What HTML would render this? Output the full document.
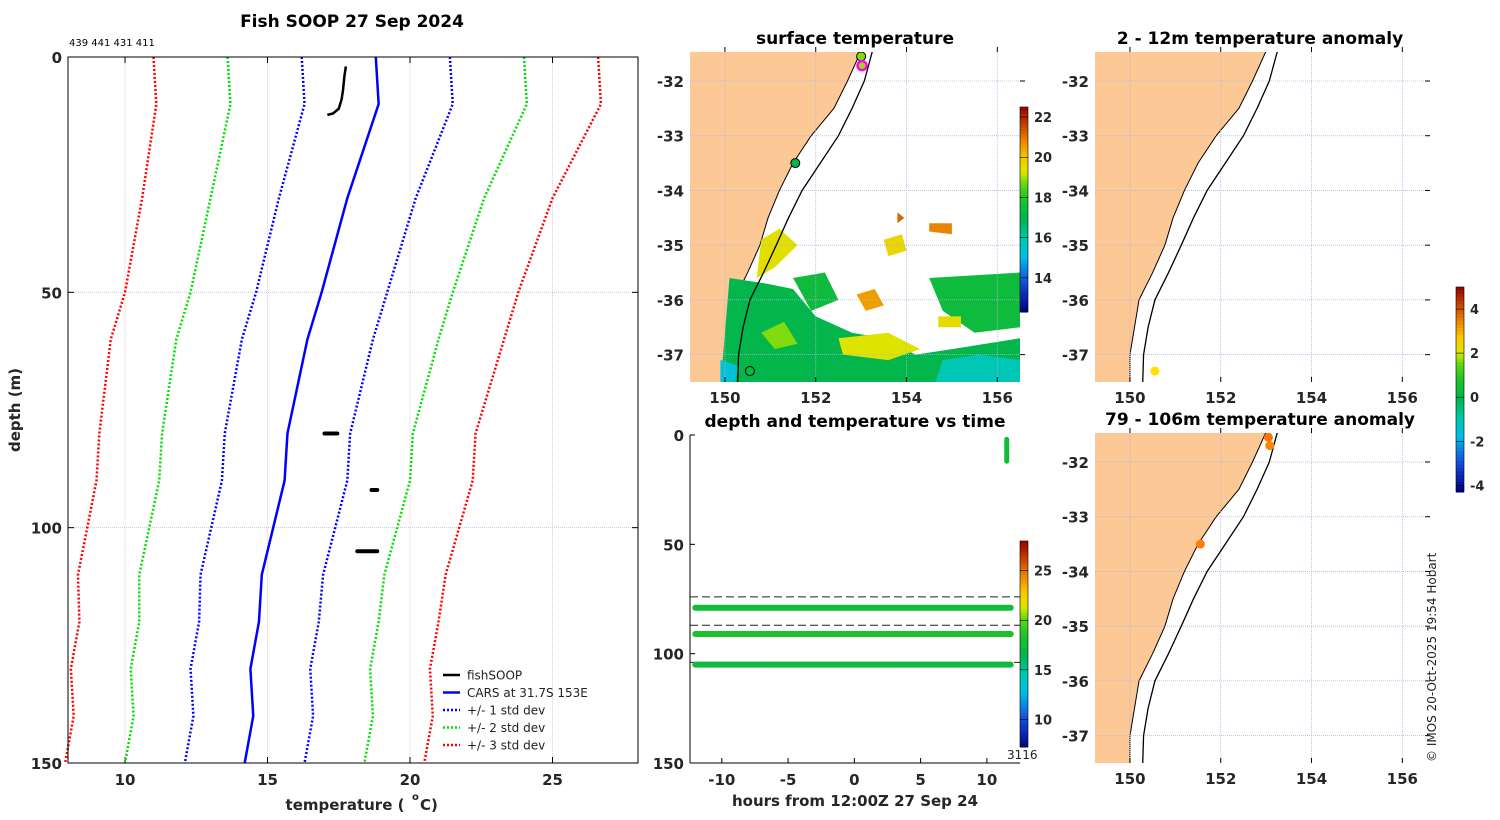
<!DOCTYPE html>
<html><head><meta charset="utf-8">
<style>
html,body{margin:0;padding:0;background:#fff;}
svg{display:block;font-family:"DejaVu Sans","Liberation Sans",sans-serif;}
.tk{font-size:15px;font-weight:bold;fill:#262626;}
.ttl{font-size:17px;font-weight:bold;fill:#000;}
.cb{font-size:13px;font-weight:bold;fill:#262626;}
</style></head>
<body>
<svg id="fig" width="1500" height="820" viewBox="0 0 1500 820">
  <g id="profile"></g>
  <g id="sst"></g>
  <g id="anom1"></g>
  <g id="anom2"></g>
  <g id="tplot"></g>
  <text x="1436" y="762" transform="rotate(-90 1436 762)" font-size="12" fill="#222">© IMOS 20-Oct-2025 19:54 Hobart</text>
</svg>
<script>
// ---- profile data ----
const depths = [0,10,30,50,60,80,90,110,120,130,140,150];
const carsMean = [18.8,18.9,17.8,16.9,16.4,15.7,15.6,14.8,14.7,14.4,14.5,14.2];
const carsStd = [2.6,2.6,2.4,2.3,2.3,2.2,2.2,2.15,2.1,2.1,2.1,2.1];
const fishDepth1 = [2,4,7,9,11,12,12.3];
const fishTemp1 = [17.75,17.7,17.65,17.6,17.5,17.3,17.1];
const blobs = [[80,17.0,17.45],[92,18.65,18.85],[105,18.15,18.85]];
const tempTicks = [10,15,20,25];
const depthTicks = [0,50,100,150];
// ---- map data ----
const lonTicks = [150,152,154,156];
const latTicks = [-32,-33,-34,-35,-36,-37];
const coastLon = [153.0,152.7,152.4,151.9,151.5,151.2,150.95,150.77,150.5,150.2,150.1,150.0,150.0];
const coastLat = [-31.45,-32.0,-32.5,-33.0,-33.5,-34.0,-34.5,-35.0,-35.5,-36.0,-36.5,-37.0,-37.55];
const shelfLon = [153.25,153.07,152.8,152.5,152.1,151.7,151.4,151.13,150.85,150.55,150.4,150.3,150.28];
const shelfLat = [-31.45,-32.0,-32.5,-33.0,-33.5,-34.0,-34.5,-35.0,-35.5,-36.0,-36.5,-37.0,-37.55];
const sstPointsLon = [153.0,153.02,151.55,150.55];
const sstPointsLat = [-31.55,-31.72,-33.5,-37.3];
const sstPointsVal = [18.8,18.9,17.0,17.3];
const anom1Lon = [150.55]; const anom1Lat = [-37.3]; const anom1Val = [1.8];
const anom2Lon = [153.05,153.08,151.55]; const anom2Lat = [-31.55,-31.7,-33.5]; const anom2Val = [2.8,2.6,2.7];
// ---- depth-time data ----
const hourTicks = [-10,-5,0,5,10];
const bandDepths = [79,91,105];
const bandTemps = [17.6,18.3,17.4];
const dashDepths = [74,87,104];
const surfHour = 11.5;
const surfDepths = [2,12];

const NS="http://www.w3.org/2000/svg";
function el(parent,tag,attrs,text){const e=document.createElementNS(NS,tag);for(const k in attrs)e.setAttribute(k,attrs[k]);if(text!==undefined)e.textContent=text;parent.appendChild(e);return e;}

function jet(t){t=Math.max(0,Math.min(1,t));
  const r=Math.max(0,Math.min(1,1.5-Math.abs(4*t-3)));
  const g=Math.max(0,Math.min(1,1.5-Math.abs(4*t-2)));
  const b=Math.max(0,Math.min(1,1.5-Math.abs(4*t-1)));
  return `rgb(${Math.round(r*255)},${Math.round(g*255)},${Math.round(b*255)})`;}
function sstCol(v,lo,hi){
  const t=(v-lo)/(hi-lo);
  const stops=[[0,[0,0,130]],[0.15,[20,80,220]],[0.27,[0,190,230]],[0.36,[0,200,170]],[0.45,[0,180,80]],[0.55,[30,195,40]],[0.62,[90,215,20]],[0.68,[220,230,0]],[0.76,[250,195,0]],[0.86,[225,110,0]],[1,[150,0,0]]];
  let tt=Math.max(0,Math.min(1,t));
  for(let i=1;i<stops.length;i++){if(tt<=stops[i][0]){const a=stops[i-1],b=stops[i];const f=(tt-a[0])/(b[0]-a[0]);
    return `rgb(${a[1].map((c,j)=>Math.round(c+(b[1][j]-c)*f)).join(',')})`;}}
  return 'rgb(150,0,0)';}

// ================= PROFILE =================
(function(){
  const g=document.getElementById('profile');
  const X0=68,X1=638,Y0=57,Y1=763,T0=8,T1=28,D0=0,D1=150;
  const xs=t=>X0+(t-T0)/(T1-T0)*(X1-X0);
  const ys=d=>Y0+(d-D0)/(D1-D0)*(Y1-Y0);
  el(g,'text',{x:352,y:27,'text-anchor':'middle',class:'ttl',},'Fish SOOP 27 Sep 2024');
  el(g,'text',{x:69,y:46,'font-size':'10',fill:'#000',},'439 441 431 411');
  tempTicks.forEach(t=>{const l=el(g,'line',{x1:xs(t),x2:xs(t),y1:Y0,y2:Y1,stroke:'#e8c8c8','stroke-width':1,'stroke-dasharray':'1,1'});
    
    el(g,'line',{x1:xs(t),x2:xs(t),y1:Y1,y2:Y1-6,stroke:'#000'});el(g,'line',{x1:xs(t),x2:xs(t),y1:Y0,y2:Y0+6,stroke:'#000'});
    const tx=el(g,'text',{x:xs(t),y:Y1+22,'text-anchor':'middle',class:'tk'},String(t));
    });
  depthTicks.forEach(d=>{const l=el(g,'line',{x1:X0,x2:X1,y1:ys(d),y2:ys(d),stroke:'#c0c8f0','stroke-width':1,'stroke-dasharray':'1,1'});
    
    el(g,'line',{x1:X0,x2:X0+6,y1:ys(d),y2:ys(d),stroke:'#000'});el(g,'line',{x1:X1,x2:X1-6,y1:ys(d),y2:ys(d),stroke:'#000'});
    const tx=el(g,'text',{x:X0-6,y:ys(d)+6,'text-anchor':'end',class:'tk'},String(d));
    });
  const cols={1:'#0000ff',2:'#00e000',3:'#ff0000'};
  [1,2,3].forEach(k=>{[-1,1].forEach(s=>{
    const pts=depths.map((d,i)=>xs(carsMean[i]+s*k*carsStd[i])+','+ys(d)).join(' ');
    const p=el(g,'polyline',{points:pts,fill:'none',stroke:cols[k],'stroke-width':2.5,'stroke-dasharray':'2,2'});
    });});
  const m=el(g,'polyline',{points:depths.map((d,i)=>xs(carsMean[i])+','+ys(d)).join(' '),fill:'none',stroke:'#0000ff','stroke-width':2.5});
  
  const f=el(g,'polyline',{points:fishDepth1.map((d,i)=>xs(fishTemp1[i])+','+ys(d)).join(' '),fill:'none',stroke:'#000','stroke-width':2.5});
  
  blobs.forEach(b=>{const e=el(g,'line',{x1:xs(b[1]),x2:xs(b[2]),y1:ys(b[0]),y2:ys(b[0]),stroke:'#000','stroke-width':4,'stroke-linecap':'round'});
    });
  el(g,'rect',{x:X0,y:Y0,width:X1-X0,height:Y1-Y0,fill:'none',stroke:'#000','stroke-width':1,});
  el(g,'text',{x:345,y:810,'text-anchor':'middle',class:'tk','font-size':'16',},'temperature (');
  el(g,'text',{x:412,y:800,'font-size':'10','font-weight':'bold',fill:'#262626'},'o');
  el(g,'text',{x:420,y:810,class:'tk','font-size':'16'},' C)');
  el(g,'text',{x:20,y:410,transform:'rotate(-90 20 410)','text-anchor':'middle',class:'tk','font-size':'16',},'depth (m)');
  const leg=[['fishSOOP','#000',null],['CARS at 31.7S 153E','#0000ff',null],['+/- 1 std dev','#0000ff','2,2'],['+/- 2 std dev','#00e000','2,2'],['+/- 3 std dev','#ff0000','2,2']];
  leg.forEach((L,i)=>{const y=675+i*17.5;
    const ln=el(g,'line',{x1:443,x2:460,y1:y,y2:y,stroke:L[1],'stroke-width':2.5});if(L[2])ln.setAttribute('stroke-dasharray',L[2]);
    
    const t=el(g,'text',{x:467,y:y+4.5,'font-size':'12',fill:'#222'},L[0]);
    });
})();

// ================= MAPS =================
function drawMap(gid,Y0,title,titleX,opts){
  const g=document.getElementById(gid);
  const X0=opts.x0,X1=X0+330,Y1=Y0+330,L0=149.23,L1=156.5,A0=-31.47,A1=-37.5;
  const xs=l=>X0+(l-L0)/(L1-L0)*(X1-X0);
  const ys=a=>Y0+(a-A0)/(A1-A0)*(Y1-Y0);
  el(g,'text',{x:titleX,y:Y0-8,'text-anchor':'middle',class:'ttl',},title);
  const cid='clip-'+gid;const cp=el(g,'clipPath',{id:cid});el(cp,'rect',{x:X0,y:Y0,width:330,height:330});
  const inner=el(g,'g',{'clip-path':`url(#${cid})`});
  let lp=`M${X0-5},${Y0-5} `+coastLon.map((l,i)=>`L${xs(l)},${ys(coastLat[i])}`).join(' ')+` L${X0-5},${Y1+5} Z`;
  const land=el(inner,'path',{d:lp,fill:'#fcc996',stroke:'#000','stroke-width':1});
  
  if(opts.sst) opts.sst(inner,xs,ys);
  lonTicks.forEach(l=>{el(inner,'line',{x1:xs(l),x2:xs(l),y1:Y0,y2:Y1,stroke:'#b0b4dc','stroke-width':0.8,'stroke-dasharray':'1,1'});
    const t=el(g,'text',{x:xs(l),y:Y1+21,'text-anchor':'middle',class:'tk'},String(l));
    el(g,'line',{x1:xs(l),x2:xs(l),y1:Y0,y2:Y0-5,stroke:'#000'});el(g,'line',{x1:xs(l),x2:xs(l),y1:Y1,y2:Y1-5,stroke:'#000'});});
  latTicks.forEach(a=>{el(inner,'line',{x1:X0,x2:X1,y1:ys(a),y2:ys(a),stroke:'#b0b4dc','stroke-width':0.8,'stroke-dasharray':'1,1'});
    const t=el(g,'text',{x:X0-6,y:ys(a)+6,'text-anchor':'end',class:'tk'},String(a));
    el(g,'line',{x1:X1,x2:X1+5,y1:ys(a),y2:ys(a),stroke:'#000'});});
  const sh=el(inner,'polyline',{points:shelfLon.map((l,i)=>xs(l)+','+ys(shelfLat[i])).join(' '),fill:'none',stroke:'#000','stroke-width':1.3});
  
  opts.pts.lon.forEach((l,i)=>{const c=el(inner,'circle',{cx:xs(l),cy:ys(opts.pts.lat[i]),r:4.5,fill:opts.pts.col(opts.pts.val[i]),stroke:opts.pts.stroke||'none','stroke-width':1});
    });
  if(opts.mag){const c=el(inner,'circle',{cx:xs(opts.mag[0]),cy:ys(opts.mag[1]),r:4.5,fill:'none',stroke:'#ff00ff','stroke-width':2.5});}
}
function colorbar(g,x,y0,y1,lo,hi,ticks,cf,name){
  const n=60,h=(y1-y0)/n;
  for(let i=0;i<n;i++){const v=hi-(i+0.5)/n*(hi-lo);el(g,'rect',{x:x,y:y0+i*h,width:8,height:h+0.5,fill:cf(v)});}
  el(g,'rect',{x:x,y:y0,width:8,height:y1-y0,fill:'none',stroke:'#000','stroke-width':0.6,});
  ticks.forEach(t=>{const y=y0+(hi-t)/(hi-lo)*(y1-y0);el(g,'line',{x1:x,x2:x+8,y1:y,y2:y,stroke:'#000','stroke-width':0.6});
    const tx=el(g,'text',{x:x+14,y:y+5,class:'cb'},String(t));});
}
const sstPatches=[
 [17.0,[[150.1,-35.6],[150.9,-35.7],[151.5,-35.8],[152.0,-36.3],[152.8,-36.6],[153.5,-36.7],[154.2,-37.0],[155.0,-36.9],[156.5,-36.7],[156.5,-37.6],[149.9,-37.6]]],
 [15.8,[[154.8,-37.1],[155.6,-37.0],[156.5,-37.1],[156.5,-37.6],[154.6,-37.6]]],
 [15.3,[[149.9,-37.1],[150.3,-37.2],[150.2,-37.6],[149.9,-37.6]]],
 [17.4,[[151.5,-35.6],[152.2,-35.5],[152.5,-36.0],[151.9,-36.2]]],
 [17.4,[[154.5,-35.6],[156.5,-35.5],[156.5,-36.5],[155.5,-36.6],[154.8,-36.2]]],
 [18.8,[[150.8,-36.6],[151.3,-36.4],[151.6,-36.8],[151.1,-36.9]]],
 [19.3,[[152.5,-36.7],[153.6,-36.6],[154.3,-36.9],[153.6,-37.1],[152.6,-37.0]]],
 [19.4,[[150.8,-34.9],[151.2,-34.7],[151.6,-35.0],[151.1,-35.4],[150.7,-35.6]]],
 [19.6,[[153.5,-34.9],[153.9,-34.8],[154.0,-35.1],[153.6,-35.2]]],
 [20.5,[[152.9,-35.9],[153.3,-35.8],[153.5,-36.1],[153.1,-36.2]]],
 [21.2,[[153.8,-34.4],[153.95,-34.5],[153.8,-34.6]]],
 [20.8,[[154.5,-34.6],[155.0,-34.6],[155.0,-34.8],[154.5,-34.75]]],
 [19.5,[[154.7,-36.3],[155.2,-36.3],[155.2,-36.5],[154.7,-36.5]]]
];
drawMap('sst',52,'surface temperature',855,{x0:690,
  sst:(g,xs,ys)=>{sstPatches.forEach(p=>{const e=el(g,'polygon',{points:p[1].map(q=>xs(q[0])+','+ys(q[1])).join(' '),fill:sstCol(p[0],12.3,22.5)});
    });},
  pts:{lon:sstPointsLon,lat:sstPointsLat,val:sstPointsVal,col:v=>sstCol(v,12.3,22.5),stroke:'#000'},mag:[153.02,-31.72]});
colorbar(document.getElementById('sst'),1020,107,312,12.3,22.5,[14,16,18,20,22],v=>sstCol(v,12.3,22.5),'sst-colorbar');
drawMap('anom1',52,'2 - 12m temperature anomaly',1260,{x0:1095,pts:{lon:anom1Lon,lat:anom1Lat,val:anom1Val,col:v=>jet((v+4.3)/9.3)}});
drawMap('anom2',433,'79 - 106m temperature anomaly',1260,{x0:1095,pts:{lon:anom2Lon,lat:anom2Lat,val:anom2Val,col:v=>jet((v+4.3)/9.3)}});
colorbar(document.getElementById('anom1'),1456,287,492,-4.3,5.0,[-4,-2,0,2,4],v=>sstCol((v+4.3)/9.3*10.2+12.3,12.3,22.5),'anomaly-colorbar');

// ================= DEPTH vs TIME =================
(function(){
  const g=document.getElementById('tplot');
  const X0=690,X1=1020,Y0=435,Y1=763,H0=-12.4,H1=12.5;
  const xs=h=>X0+(h-H0)/(H1-H0)*(X1-X0);
  const ys=d=>Y0+d/150*(Y1-Y0);
  el(g,'text',{x:855,y:427,'text-anchor':'middle',class:'ttl',},'depth and temperature vs time');
  hourTicks.forEach(h=>{el(g,'line',{x1:xs(h),x2:xs(h),y1:Y1,y2:Y1-5,stroke:'#000'});
    const t=el(g,'text',{x:xs(h),y:Y1+22,'text-anchor':'middle',class:'tk'},String(h));});
  depthTicks.forEach(d=>{el(g,'line',{x1:X0,x2:X0+5,y1:ys(d),y2:ys(d),stroke:'#000'});
    const t=el(g,'text',{x:X0-6,y:ys(d)+6,'text-anchor':'end',class:'tk'},String(d));});
  dashDepths.forEach(d=>{const l=el(g,'line',{x1:X0,x2:X1,y1:ys(d),y2:ys(d),stroke:'#222','stroke-width':1,'stroke-dasharray':'8,4'});});
  const tc=v=>sstCol((v-7)/21*10.2+12.3,12.3,22.5);
  bandDepths.forEach((d,i)=>{const l=el(g,'line',{x1:xs(-12),x2:xs(11.8),y1:ys(d),y2:ys(d),stroke:tc(bandTemps[i]),'stroke-width':6,'stroke-linecap':'round'});
    });
  const s=el(g,'line',{x1:xs(surfHour),x2:xs(surfHour),y1:ys(surfDepths[0]),y2:ys(surfDepths[1]),stroke:tc(17.6),'stroke-width':5,'stroke-linecap':'round'});
  
  el(g,'line',{x1:X0,x2:X0,y1:Y0,y2:Y1,stroke:'#000'});el(g,'line',{x1:X0,x2:X1,y1:Y1,y2:Y1,stroke:'#000'});
  el(g,'text',{x:855,y:806,'text-anchor':'middle',class:'tk','font-size':'16',},'hours from 12:00Z 27 Sep 24');
  colorbar(g,1020,541,747,7.2,28,[10,15,20,25],tc,'temperature-colorbar');
  el(g,'text',{x:1007,y:759,'font-size':'12',fill:'#222',},'3116');
})();
</script>
</body></html>
